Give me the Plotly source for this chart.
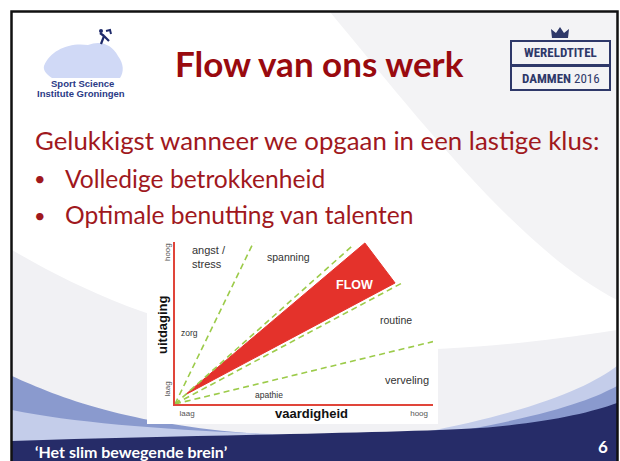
import plotly.graph_objects as go

# ---------------- data ----------------
boundary_x_end = [3.05, 6.9, 8.8, 10.0]      # dashed zone boundaries (from origin)
boundary_y_end = [10.0, 9.8, 7.47, 3.85]
flow_x = [0.39, 7.36, 8.53]                  # FLOW channel triangle
flow_y = [0.56, 9.94, 7.47]
zone_labels = ["spanning", "routine", "zorg", "verveling", "apathie"]
zone_x = [4.38, 8.57, 0.58, 9.0, 3.64]
zone_y = [9.07, 5.19, 4.38, 1.48, 0.56]
zone_size = [10.5, 10.5, 8.5, 11, 8.5]
x_tick_vals = [0.47, 9.46]
y_tick_vals = [0.86, 9.3]
tick_text = ["laag", "hoog"]

W, H = 620, 461
def fx(x): return x / W
def fy(y): return 1 - y / H

def path(cmds):
    out = []
    for c in cmds:
        op, pts = c[0], c[1:]
        s = op
        s += " ".join("%.5f,%.5f" % (fx(p[0]), fy(p[1])) for p in pts)
        out.append(s)
    return " ".join(out)

fig = go.Figure()

# FLOW triangle
fig.add_trace(go.Scatter(x=flow_x + [flow_x[0]], y=flow_y + [flow_y[0]], mode="lines",
                         fill="toself", fillcolor="#e4322b", line=dict(color="#e4322b", width=1),
                         hoverinfo="skip", showlegend=False))
# dashed boundaries
for xe, ye in zip(boundary_x_end, boundary_y_end):
    fig.add_trace(go.Scatter(x=[0, xe], y=[0, ye], mode="lines",
                             line=dict(color="#9ccb4a", width=1.6, dash="6px,4px"),
                             hoverinfo="skip", showlegend=False))

shapes = []
# slide background swoosh
shapes.append(dict(type="path", xref="paper", yref="paper", layer="below", line=dict(width=0),
                   fillcolor="#f3f3f5",
                   path=path([("M", (330, 12)), ("C", (420, 120), (520, 250), (617, 300)),
                              ("L", (617, 12)), ("Z",)])))
shapes.append(dict(type="path", xref="paper", yref="paper", layer="below", line=dict(width=0),
                   fillcolor="#f1f1f4",
                   path=path([("M", (12, 250)), ("C", (150, 330), (300, 380), (617, 330)),
                              ("L", (617, 461)), ("L", (12, 461)), ("Z",)])))
# bottom waves
shapes.append(dict(type="path", xref="paper", yref="paper", layer="below", line=dict(width=0),
                   fillcolor="#8a9ace",
                   path=path([("M", (12, 376)), ("C", (60, 398), (130, 425), (260, 434)),
                              ("L", (260, 461)), ("L", (12, 461)), ("Z",)])))
shapes.append(dict(type="path", xref="paper", yref="paper", layer="below", line=dict(width=0),
                   fillcolor="#c4cdea",
                   path=path([("M", (12, 410)), ("C", (90, 426), (220, 434), (360, 436)),
                              ("L", (360, 461)), ("L", (12, 461)), ("Z",)])))
shapes.append(dict(type="path", xref="paper", yref="paper", layer="below", line=dict(width=0),
                   fillcolor="#c4cdea",
                   path=path([("M", (617, 366)), ("C", (590, 386), (540, 410), (420, 433)),
                              ("L", (617, 433)), ("Z",)])))
shapes.append(dict(type="path", xref="paper", yref="paper", layer="below", line=dict(width=0),
                   fillcolor="#8a9ace",
                   path=path([("M", (617, 386)), ("C", (595, 398), (560, 412), (470, 429)),
                              ("L", (617, 429)), ("Z",)])))
shapes.append(dict(type="path", xref="paper", yref="paper", layer="below", line=dict(width=0),
                   fillcolor="#262c68",
                   path=path([("M", (12, 441)), ("C", (200, 435), (400, 433), (480, 428)),
                              ("C", (545, 423), (590, 413), (617, 403)),
                              ("L", (617, 461)), ("L", (12, 461)), ("Z",)])))
# chart white box
shapes.append(dict(type="rect", xref="paper", yref="paper", layer="below", line=dict(width=0),
                   fillcolor="white", x0=fx(147), x1=fx(438), y0=fy(424), y1=fy(238)))
# left logo blob
shapes.append(dict(type="path", xref="paper", yref="paper", layer="below", line=dict(width=0),
                   fillcolor="#d0d9f6",
                   path=path([("M", (44, 66)), ("C", (50, 50), (70, 42), (88, 45)),
                              ("C", (100, 40), (112, 44), (118, 56)),
                              ("C", (124, 64), (124, 72), (120, 78)),
                              ("L", (52, 78)), ("C", (46, 74), (43, 70), (44, 66)), ("Z",)])))
# runner
shapes.append(dict(type="path", xref="paper", yref="paper", layer="above",
                   line=dict(color="#1e2a6a", width=2.2),
                   path=path([("M", (101, 44)), ("L", (104, 36)), ("L", (109, 41)),
                              ("M", (104, 36)), ("L", (100, 33))])))
shapes.append(dict(type="circle", xref="paper", yref="paper", layer="above",
                   line=dict(width=0), fillcolor="#1e2a6a",
                   x0=fx(99), x1=fx(103), y0=fy(33), y1=fy(29)))
shapes.append(dict(type="path", xref="paper", yref="paper", layer="above",
                   line=dict(color="#1e2a6a", width=2),
                   path=path([("M", (106, 31)), ("L", (110, 30)), ("L", (111, 34))])))
# right logo
shapes.append(dict(type="rect", xref="paper", yref="paper", layer="above",
                   line=dict(color="#2e3869", width=2), fillcolor="rgba(0,0,0,0)",
                   x0=fx(511), x1=fx(610), y0=fy(65), y1=fy(41)))
shapes.append(dict(type="rect", xref="paper", yref="paper", layer="above",
                   line=dict(color="#2e3869", width=2), fillcolor="rgba(0,0,0,0)",
                   x0=fx(511), x1=fx(610), y0=fy(90), y1=fy(66)))
shapes.append(dict(type="path", xref="paper", yref="paper", layer="above",
                   line=dict(width=0), fillcolor="#2e3869",
                   path=path([("M", (552, 38)), ("L", (551, 29)), ("L", (556, 33)), ("L", (560, 27)),
                              ("L", (564, 33)), ("L", (569, 29)), ("L", (568, 38)), ("Z",)])))
# slide border
shapes.append(dict(type="path", xref="paper", yref="paper", layer="above",
                   line=dict(color="#111111", width=2.5),
                   path=path([("M", (11.5, 465)), ("L", (11.5, 11.5)), ("L", (617.5, 11.5)),
                              ("L", (617.5, 465))])))

ann = []
def A(text, x, y, size, color, bold=False, xanchor="center", family="Lato, Noto Sans, sans-serif",
      angle=0, yanchor="middle"):
    ann.append(dict(text=("<b>%s</b>" % text) if bold else text, x=fx(x), y=fy(y),
                    xref="paper", yref="paper", showarrow=False, xanchor=xanchor, yanchor=yanchor,
                    textangle=angle, font=dict(size=size, color=color, family=family)))

A("Flow van ons werk", 319, 63, 35, "#990a0f", bold=True)
A("Gelukkigst wanneer we opgaan in een lastige klus:", 33, 140, 25.8, "#a0181d", xanchor="left")
A("•", 40, 178, 20, "#a0181d", xanchor="center")
A("Volledige betrokkenheid", 63, 178, 24.6, "#a0181d", xanchor="left")
A("•", 40, 215, 20, "#a0181d", xanchor="center")
A("Optimale benutting van talenten", 63, 215, 24.6, "#a0181d", xanchor="left")
A("‘Het slim bewegende brein’", 33, 451, 16, "white", bold=True, xanchor="left")
A("6", 603, 446, 17, "white", bold=True)
# logos text
A("Sport Science", 82, 83, 9.5, "#2b3a86", bold=True, family="Liberation Sans, Arial")
A("Institute Groningen", 81, 94, 9.5, "#2b3a86", bold=True, family="Liberation Sans, Arial")
A("WERELDTITEL", 560.5, 53, 13, "#2e3869", bold=True,
  family="Liberation Sans Narrow, Roboto Condensed, Roboto")
A("DAMMEN <span style='font-weight:normal'>2016</span>", 560.5, 78, 13, "#2e3869", bold=True,
  family="Liberation Sans Narrow, Roboto Condensed, Roboto")
# chart axis titles
A("vaardigheid", 311, 413, 13, "#111111", bold=True, family="Liberation Sans, Arial")
A("uitdaging", 162, 325, 13, "#111111", bold=True, family="Liberation Sans, Arial", angle=-90)

# zone labels in data coordinates
for t, x, y, s in zip(zone_labels, zone_x, zone_y, zone_size):
    ann.append(dict(text=t, x=x, y=y, xref="x", yref="y", showarrow=False,
                    font=dict(size=s, color="#333333", family="Liberation Sans, Arial")))
ann.append(dict(text="angst /<br>stress", x=0.58, y=9.07, xref="x", yref="y", showarrow=False,
                xanchor="left", align="left",
                font=dict(size=11, color="#333333", family="Liberation Sans, Arial")))
ann.append(dict(text="<b>FLOW</b>", x=6.94, y=7.35, xref="x", yref="y", showarrow=False,
                font=dict(size=12.5, color="white", family="Liberation Sans, Arial")))

fig.update_layout(
    width=W, height=H, margin=dict(l=0, r=0, t=0, b=0),
    paper_bgcolor="white", plot_bgcolor="rgba(0,0,0,0)",
    shapes=shapes, annotations=ann, showlegend=False,
    xaxis=dict(domain=[175 / W, 433 / W], range=[0, 10], showgrid=False, zeroline=False,
               showline=True, linecolor="#e0453a", linewidth=2,
               tickmode="array", tickvals=x_tick_vals, ticktext=tick_text, ticks="",
               tickfont=dict(size=8, color="#555555", family="Liberation Sans, Arial"),
               fixedrange=True),
    yaxis=dict(domain=[(H - 404) / H, (H - 242) / H], range=[0, 10], showgrid=False, zeroline=False,
               showline=True, linecolor="#e0453a", linewidth=2,
               tickmode="array", tickvals=y_tick_vals, ticktext=tick_text, ticks="",
               tickangle=-90,
               tickfont=dict(size=8, color="#555555", family="Liberation Sans, Arial"),
               fixedrange=True),
)

fig.write_html("out.html", config={"displayModeBar": False},
               post_script="document.body.style.margin='0';document.body.style.overflow='hidden';")
